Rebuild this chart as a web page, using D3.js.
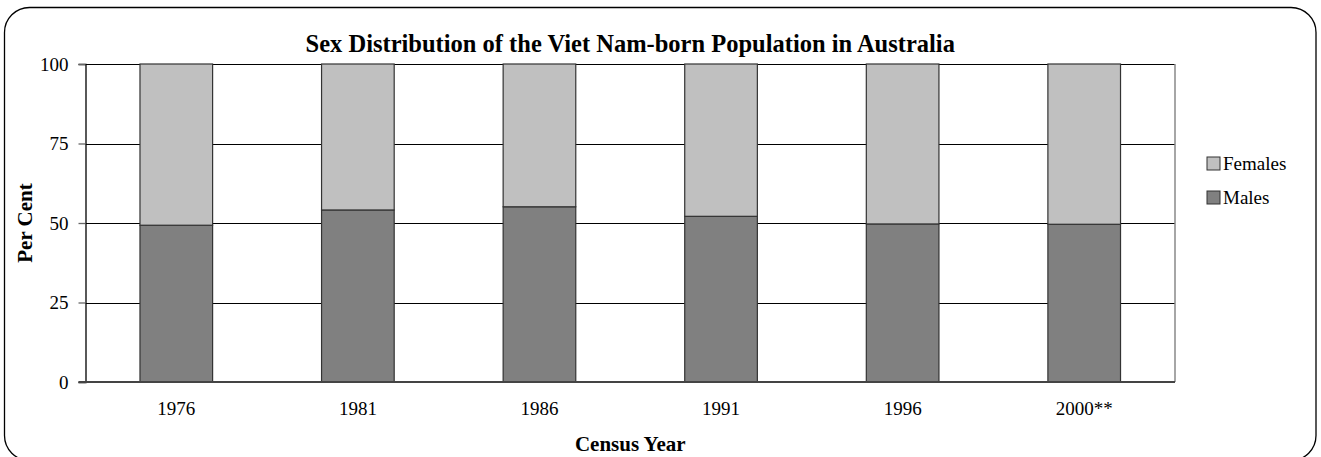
<!DOCTYPE html>
<html lang="en">
<head>
<meta charset="utf-8">
<script src="https://d3js.org/d3.v7.min.js"></script>
<style type="text/css">
body {
  margin: 0;
  background: #fff;
}
svg text {
  font-family: "Liberation Serif", "Times New Roman", serif;
  fill: #000;
}
</style>
</head>
<body>
<script type="text/javascript">
// census years and per cent values
var years = ["1976", "1981", "1986", "1991", "1996", "2000**"];
var males = [49.3, 54.1, 55.1, 52.1, 49.7, 49.6];
var females = [50.7, 45.9, 44.9, 47.9, 50.3, 50.4];
var yTicks = [0, 25, 50, 75, 100];
var seriesNames = ["Females", "Males"];
var seriesColors = ["#c0c0c0", "#808080"];

var serif = "'Liberation Serif', 'Times New Roman', serif";
var W = 1321, H = 457;
var margin = {top: 64, right: 146, bottom: 75, left: 85.5};
var width = W - margin.left - margin.right,
    height = H - margin.top - margin.bottom;

var svg = d3.select("body").append("svg")
    .attr("width", W)
    .attr("height", H)
    .attr("font-family", serif);

// rounded frame
svg.append("rect")
    .attr("x", 4.5).attr("y", 7.5)
    .attr("width", 1311.5).attr("height", 453)
    .attr("rx", 25).attr("ry", 25)
    .attr("fill", "none")
    .attr("stroke", "#000")
    .attr("stroke-width", 1.3);

var x = d3.scaleBand().domain(years).range([0, width]).padding(0);
var y = d3.scaleLinear().domain([0, 100]).range([height, 0]);

var g = svg.append("g")
    .attr("transform", "translate(" + margin.left + "," + margin.top + ")");

// gridlines
g.append("g").selectAll("line")
    .data(yTicks.filter(function(d) { return d > 0; }))
    .enter().append("line")
    .attr("x1", 0).attr("x2", width)
    .attr("y1", function(d) { return Math.round(y(d)) + 0.5; })
    .attr("y2", function(d) { return Math.round(y(d)) + 0.5; })
    .attr("stroke", "#000")
    .attr("stroke-width", 1);

// right edge of plot area
g.append("line")
    .attr("x1", width).attr("x2", width)
    .attr("y1", 0).attr("y2", height)
    .attr("stroke", "#888")
    .attr("stroke-width", 1.5);

// stacked bars
var stackData = years.map(function(yr, i) {
  return {year: yr, Males: males[i], Females: females[i]};
});
var stack = d3.stack().keys(["Males", "Females"])(stackData);
var colorOf = {Males: "#808080", Females: "#c0c0c0"};
var barW = x.bandwidth() * 0.4;

g.selectAll("g.layer")
    .data(stack)
    .enter().append("g")
    .attr("class", "layer")
    .attr("fill", function(d) { return colorOf[d.key]; })
    .selectAll("rect")
    .data(function(d) { return d; })
    .enter().append("rect")
    .attr("x", function(d) { return x(d.data.year) + (x.bandwidth() - barW) / 2; })
    .attr("y", function(d) { return y(d[1]); })
    .attr("width", barW)
    .attr("height", function(d) { return y(d[0]) - y(d[1]); })
    .attr("stroke", "#333")
    .attr("stroke-width", 1.2);

// y axis
var yAxis = g.append("g")
    .call(d3.axisLeft(y).tickValues(yTicks).tickSize(7).tickPadding(10).tickFormat(d3.format("d")))
    .attr("font-family", serif).attr("font-size", 19);
yAxis.select(".domain").attr("stroke", "#000").attr("stroke-width", 1.3);
yAxis.selectAll(".tick line").attr("stroke", "#666").attr("stroke-width", 1.3);

// x axis
var xAxis = g.append("g")
    .attr("transform", "translate(0," + height + ")")
    .call(d3.axisBottom(x).tickSize(0).tickPadding(20))
    .attr("font-family", serif).attr("font-size", 19);
xAxis.select(".domain").attr("stroke", "#444").attr("stroke-width", 2)
    .attr("d", "M-7,0H" + width);

// titles
svg.append("text")
    .attr("x", margin.left + width / 2)
    .attr("y", 52)
    .attr("text-anchor", "middle")
    .style("font-size", "24.5px")
    .style("font-weight", "bold")
    .text("Sex Distribution of the Viet Nam-born Population in Australia");

svg.append("text")
    .attr("x", margin.left + width / 2)
    .attr("y", 451)
    .attr("text-anchor", "middle")
    .style("font-size", "21px")
    .style("font-weight", "bold")
    .text("Census Year");

svg.append("text")
    .attr("transform", "translate(32," + (margin.top + height / 2) + ") rotate(-90)")
    .attr("text-anchor", "middle")
    .style("font-size", "21px")
    .style("font-weight", "bold")
    .text("Per Cent");

// legend
var legend = svg.append("g").attr("transform", "translate(1207,157)");
seriesNames.forEach(function(name, i) {
  var row = legend.append("g").attr("transform", "translate(0," + (i * 34) + ")");
  row.append("rect")
      .attr("width", 13).attr("height", 13)
      .attr("fill", seriesColors[i])
      .attr("stroke", "#333")
      .attr("stroke-width", 1);
  row.append("text")
      .attr("x", 16).attr("y", 12.5)
      .style("font-size", "19px")
      .text(name);
});
</script>
</body>
</html>
